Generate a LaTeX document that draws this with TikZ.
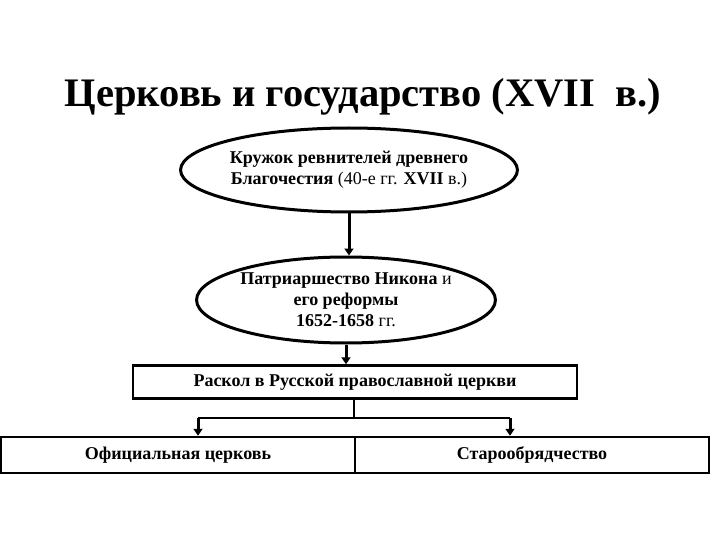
\documentclass[tikz,border=0pt]{standalone}
\usepackage{fontspec}
\setmainfont{Liberation Serif}
\usetikzlibrary{shapes.geometric,arrows.meta}
\tikzset{
 ell/.style={ellipse,draw,line width=3pt,minimum width=#1,align=center,font=\fontsize{18}{21}\selectfont,inner sep=0pt},
 box/.style={rectangle,draw,line width=2.5pt,align=center,font=\fontsize{18}{21}\selectfont\bfseries},
 arr/.style={line width=3pt,-{Triangle[length=7pt,width=9pt]}},
 ln/.style={line width=2.5pt}
}
\begin{document}
\begin{tikzpicture}[x=1pt,y=-1pt]
\useasboundingbox (0,0) rectangle (720,540);
\node (title) at (363,97) {\fontsize{40.5}{46}\selectfont\bfseries Церковь и государство (XVII\ \ в.)};
\node[ell=300pt,minimum height=84pt] (e1) at (349,170) {\textbf{Кружок ревнителей древнего}\\\textbf{Благочестия} (40-е гг. \textbf{XVII} в.)};
\node[ell=282pt,minimum height=86pt] (e2) at (346,300) {\textbf{Патриаршество Никона} и\\\textbf{его реформы}\\\textbf{1652-1658} гг.};
\node[box,minimum width=444pt,minimum height=33pt] (r) at (355,382) {Раскол в Русской православной церкви};
\node[box,minimum width=354pt,minimum height=36pt] (b1) at (178,455) {Официальная церковь};
\node[box,minimum width=354pt,minimum height=36pt] (b2) at (532,455) {Старообрядчество};
\coordinate (j) at (354,418);
\coordinate (jl) at (198,418);
\coordinate (jr) at (510,418);
\draw[arr] (e1.south) -- (e1.south |- e2.north);
\draw[arr] (e2.south) -- (e2.south |- r.north);
\draw[ln] (r.south -| j) -- (j);
\draw[ln] (jl) -- (jr);
\draw[arr] (jl) -- (jl |- b1.north);
\draw[arr] (jr) -- (jr |- b2.north);
\end{tikzpicture}
\end{document}
